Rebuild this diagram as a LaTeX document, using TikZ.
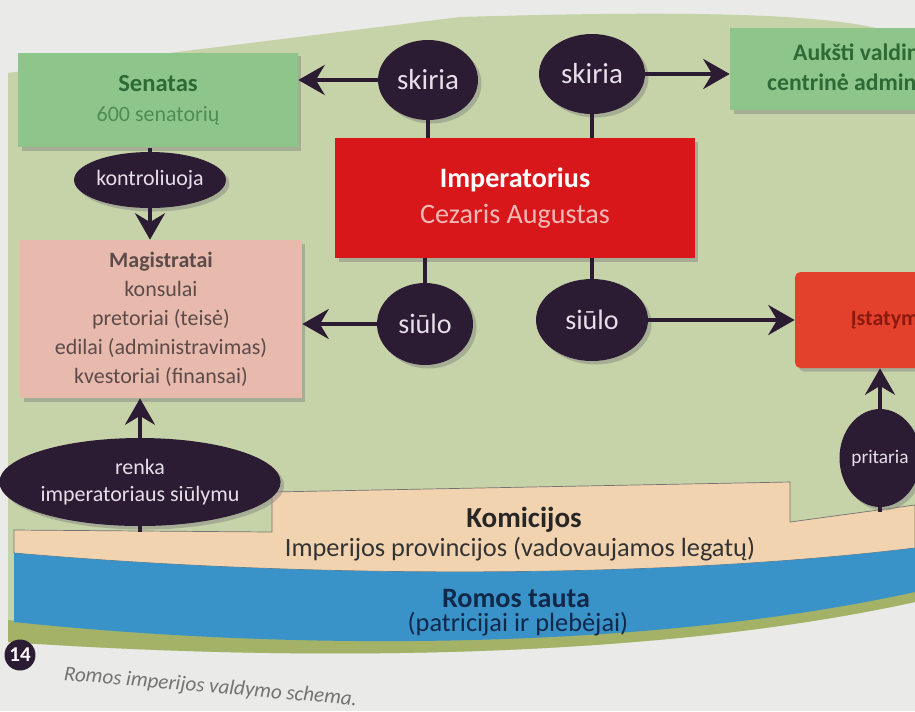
\documentclass[tikz,border=0pt]{standalone}
\usepackage{fontspec}
\setmainfont{Carlito}
\usetikzlibrary{shapes.geometric,arrows.meta,shadows}

\definecolor{pagecol}{HTML}{EAEAE8}
\definecolor{panelcol}{HTML}{C6D3A8}
\definecolor{stripcol}{HTML}{A3B266}
\definecolor{verbcol}{HTML}{2B1B33}
\definecolor{verbtext}{HTML}{E6DEE8}
\definecolor{senatcol}{HTML}{8DC58B}
\definecolor{senattitle}{HTML}{2E6A35}
\definecolor{senattext}{HTML}{4F8D52}
\definecolor{imperatcol}{HTML}{D8171B}
\definecolor{imperattext}{HTML}{F4B8B6}
\definecolor{magistcol}{HTML}{E7BAAD}
\definecolor{magisttext}{HTML}{5C4B49}
\definecolor{lawcol}{HTML}{E3412C}
\definecolor{lawtext}{HTML}{8A1A10}
\definecolor{komcol}{HTML}{F2D3AF}
\definecolor{tautacol}{HTML}{3A93C8}
\definecolor{tautatext}{HTML}{10284A}

\tikzset{
  verbnode/.style={ellipse, fill=verbcol, text=verbtext, inner sep=0pt, align=center,
    drop shadow={shadow xshift=2pt, shadow yshift=-2pt, opacity=.45}},
  box/.style={rectangle, inner sep=0pt, align=center,
    drop shadow={shadow xshift=2pt, shadow yshift=-2pt, opacity=.45}},
  arr/.style={draw=verbcol, line width=2.8pt, -{Stealth[length=15pt,width=17pt,inset=5pt]}},
  stemline/.style={draw=verbcol, line width=2.8pt},
}

\begin{document}
\begin{tikzpicture}[x=0.02cm,y=-0.02cm]
  %\draw[help lines] (0,0) grid[step=50] (915,711);
  \useasboundingbox (0,0) rectangle (915,711);
  \clip (0,0) rectangle (915,711);
  \fill[pagecol] (0,0) rectangle (915,711);
  % panel and bands
  \fill[panelcol] (8,73) -- (460,17) .. controls (700,10) and (885,12) .. (915,45)
    -- (915,602) .. controls (650,660) and (300,662) .. (8,642) -- cycle;
  \fill[stripcol] (8,620) .. controls (300,652) and (650,650) .. (915,590)
    -- (915,602) .. controls (650,660) and (300,662) .. (8,642) -- cycle;
  \filldraw[fill=komcol, draw=black!55, thin] (14,530) -- (272,532) -- (272,492) -- (790,482)
    -- (790,522) -- (915,505) -- (915,548) .. controls (650,580) and (300,578) .. (14,553) -- cycle;
  \fill[tautacol] (14,553) .. controls (300,578) and (650,580) .. (915,548)
    -- (915,592) .. controls (650,650) and (300,652) .. (14,622) -- cycle;

  \node[box, fill=senatcol, text=senattext, minimum width=5.6cm, minimum height=1.9cm,
    font=\fontsize{12.5}{17}\selectfont] (senatas) at (158,100)
    {{\fontsize{14}{17}\selectfont\bfseries\color{senattitle}Senatas}\\600 senatorių};
  \node[box, fill=imperatcol, text=imperattext, minimum width=7.2cm, minimum height=2.4cm,
    font=\fontsize{16}{20}\selectfont] (imperatorius) at (515,198)
    {{\bfseries\color{white}Imperatorius}\\Cezaris Augustas};
  \node[box, fill=senatcol, text=senattitle, minimum width=6cm, minimum height=1.64cm,
    font=\fontsize{13.5}{17}\selectfont\bfseries] (aukstai) at (880,69)
    {Aukšti valdininkai\\centrinė administracija};
  \node[box, fill=magistcol, text=magisttext, minimum width=5.64cm, minimum height=3.16cm,
    font=\fontsize{12.5}{16.5}\selectfont] (magistratai) at (161,319)
    {{\bfseries Magistratai}\\konsulai\\pretoriai (teisė)\\edilai (administravimas)\\kvestoriai (finansai)};
  \node[box, fill=lawcol, text=lawtext, minimum width=3.92cm, minimum height=1.92cm,
    rounded corners=3pt, font=\fontsize{12.5}{15}\selectfont\bfseries] (istatymai) at (893,320) {Įstatymai};

  \node[verbnode, minimum width=2cm, minimum height=1.6cm, font=\fontsize{16.5}{18}\selectfont] (skiria1) at (428,80) {skiria};
  \node[verbnode, minimum width=2.12cm, minimum height=1.6cm, font=\fontsize{16.5}{18}\selectfont] (skiria2) at (592,74) {skiria};
  \node[verbnode, minimum width=1.92cm, minimum height=1.64cm, font=\fontsize{16}{18}\selectfont] (siulo1) at (425,324) {siūlo};
  \node[verbnode, minimum width=2.24cm, minimum height=1.64cm, font=\fontsize{16}{18}\selectfont] (siulo2) at (592,320) {siūlo};
  \node[verbnode, minimum width=2.8cm, minimum height=1.12cm, font=\fontsize{12.5}{15}\selectfont] (kontroliuoja) at (150,180) {kontroliuoja};
  \node[verbnode, minimum width=4.6cm, minimum height=1.76cm, font=\fontsize{12.5}{15}\selectfont] (renka) at (140,482) {renka\\imperatoriaus siūlymu};
  \node[verbnode, minimum width=1.6cm, minimum height=1.96cm, font=\fontsize{11}{13}\selectfont] (pritaria) at (880,458) {pritaria};
  \coordinate (renkafoot) at (140,532);
  \coordinate (pritariafoot) at (880,512);

  \draw[arr] (skiria1.west) -- (senatas.east |- skiria1.west);
  \draw[arr] (skiria2.east) -- (aukstai.west |- skiria2.east);
  \draw[stemline] (skiria1.south) -- (skiria1.south |- imperatorius.north);
  \draw[stemline] (skiria2.south) -- (skiria2.south |- imperatorius.north);
  \draw[stemline] (siulo1.north) -- (siulo1.north |- imperatorius.south);
  \draw[stemline] (siulo2.north) -- (siulo2.north |- imperatorius.south);
  \draw[arr] (siulo1.west) -- (magistratai.east |- siulo1.west);
  \draw[arr] (siulo2.east) -- (istatymai.west |- siulo2.east);
  \draw[stemline] (kontroliuoja.north) -- (kontroliuoja.north |- senatas.south);
  \draw[arr] (kontroliuoja.south) -- (kontroliuoja.south |- magistratai.north);
  \draw[arr] (renka.north) -- (renka.north |- magistratai.south);
  \draw[stemline] (renka.south) -- (renkafoot);
  \draw[arr] (pritaria.north) -- (pritaria.north |- istatymai.south);
  \draw[stemline] (pritaria.south) -- (pritariafoot);

  \node[font=\fontsize{16.5}{18}\selectfont\bfseries, text=black!85] (komicijos) at (524,520) {Komicijos};
  \node[font=\fontsize{15}{18}\selectfont, text=black!80] (provincijos) at (520,549) {Imperijos provincijos (vadovaujamos legatų)};
  \node[font=\fontsize{16}{18}\selectfont\bfseries, text=tautatext] (tauta) at (516,598) {Romos tauta};
  \node[font=\fontsize{15}{18}\selectfont, text=tautatext] (plebejai) at (518,624) {(patricijai ir plebėjai)};
  \node[circle, fill=verbcol, text=white, inner sep=0pt, minimum size=0.62cm,
    font=\fontsize{12}{14}\selectfont\bfseries] (nr) at (20,655) {14};
  \node[anchor=west, rotate=-5, text=black!55, font=\fontsize{12}{14}\selectfont\itshape] (caption) at (58,674)
    {Romos imperijos valdymo schema.};
\end{tikzpicture}
\end{document}
